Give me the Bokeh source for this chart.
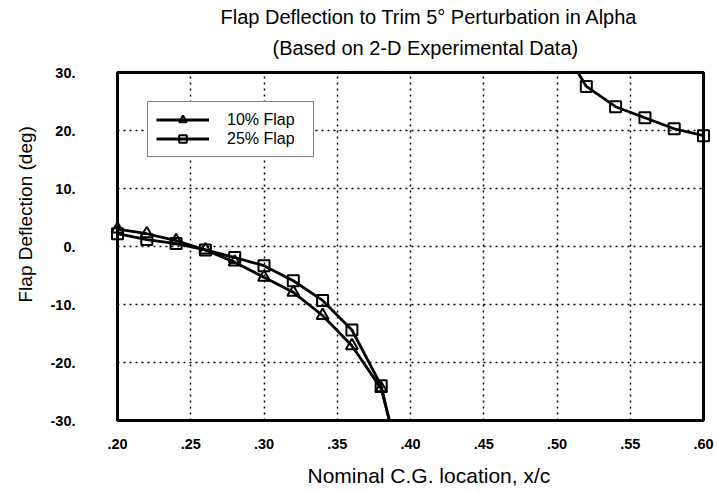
import numpy as np
from bokeh.plotting import figure
from bokeh.models import (Range1d, FixedTicker, CustomJSTickFormatter, Title,
                          Legend, LegendItem)
from bokeh.embed import file_html
from bokeh.resources import INLINE

# ---- data ----
cg_10 = [0.20, 0.22, 0.24, 0.26, 0.28, 0.30, 0.32, 0.34, 0.36, 0.38, 0.40]
flap_10 = [3.0, 2.2, 1.0, -0.6, -2.7, -5.3, -7.9, -11.9, -17.1, -24.5, -44.0]

cg_25 = [0.20, 0.22, 0.24, 0.26, 0.28, 0.30, 0.32, 0.34, 0.36, 0.38, 0.40,
         0.45, 0.50, 0.52, 0.54, 0.56, 0.58, 0.60]
flap_25 = [2.2, 1.2, 0.5, -0.6, -1.9, -3.3, -5.9, -9.3, -14.4, -24.0, -46.0,
           float("nan"), 36.0, 27.6, 24.1, 22.2, 20.3, 19.1]

x_ticks = [0.20, 0.25, 0.30, 0.35, 0.40, 0.45, 0.50, 0.55, 0.60]
y_ticks = [-30, -20, -10, 0, 10, 20, 30]

title_1 = "Flap Deflection to Trim 5\u00b0 Perturbation in Alpha"
title_2 = "(Based on 2-D Experimental Data)"
x_title = "Nominal C.G. location, x/c"
y_title = "Flap Deflection (deg)"
series_names = ["10% Flap", "25% Flap"]

FONT = "Liberation Sans"

p = figure(width=717, height=493, output_backend="svg", toolbar_location=None,
           x_range=Range1d(0.20, 0.60), y_range=Range1d(-30, 30),
           min_border_left=117, min_border_right=14, min_border_top=72,
           min_border_bottom=73)
p.background_fill_color = "white"
p.border_fill_color = "white"
p.outline_line_color = "black"
p.outline_line_width = 3

# axes
for ax in (p.xaxis[0], p.yaxis[0]):
    ax.axis_line_color = None
    ax.major_tick_line_color = None
    ax.minor_tick_line_color = None
    ax.major_tick_in = 0
    ax.major_tick_out = 0
    ax.major_label_text_font = FONT
    ax.major_label_text_font_size = "14.5px"
    ax.major_label_text_font_style = "bold"
    ax.major_label_text_color = "black"

p.xaxis[0].ticker = FixedTicker(ticks=x_ticks)
p.yaxis[0].ticker = FixedTicker(ticks=y_ticks)
p.xaxis[0].formatter = CustomJSTickFormatter(code='return "." + (tick*100).toFixed(0);')
p.yaxis[0].formatter = CustomJSTickFormatter(code='return tick.toFixed(0) + ".";')
p.xaxis[0].major_label_standoff = 18
p.yaxis[0].major_label_standoff = 42

# grid
for g in (p.xgrid[0], p.ygrid[0]):
    g.grid_line_color = "black"
    g.grid_line_dash = "2 4"
    g.grid_line_width = 1.5
p.xgrid[0].ticker = FixedTicker(ticks=x_ticks)
p.ygrid[0].ticker = FixedTicker(ticks=y_ticks)

# series
l10 = p.line(cg_10, flap_10, line_color="black", line_width=2.8)
s10 = p.scatter(cg_10, flap_10, marker="triangle", size=12, fill_color=None,
                line_color="black", line_width=2, level="overlay")
l25 = p.line(cg_25, flap_25, line_color="black", line_width=2.8)
s25 = p.scatter(cg_25, flap_25, marker="square", size=11, fill_color=None,
                line_color="black", line_width=2, level="overlay")

legend = Legend(items=[LegendItem(label=series_names[0], renderers=[l10, s10]),
                       LegendItem(label=series_names[1], renderers=[l25, s25])],
                location=(30, 263), glyph_width=53, glyph_height=19,
                label_height=19, label_width=78, label_standoff=18, padding=8,
                spacing=0, margin=0, border_line_color="black",
                border_line_width=1.5, background_fill_color="white",
                background_fill_alpha=1.0, label_text_font=FONT,
                label_text_font_size="16px", label_text_color="black")
p.add_layout(legend, "center")

# titles (last added is farthest from the frame)
p.title.text = ""
p.add_layout(Title(text=" ", text_font_size="1px", standoff=2), "above")
p.add_layout(Title(text=title_2, align="left", offset=155, text_font=FONT,
                   text_font_size="20px", text_font_style="normal",
                   text_color="black", standoff=17), "above")
p.add_layout(Title(text=title_1, align="left", offset=103, text_font=FONT,
                   text_font_size="20px", text_font_style="normal",
                   text_color="black", standoff=-3), "above")
p.add_layout(Title(text=" ", text_font_size="1px", standoff=7), "below")
p.add_layout(Title(text=x_title, align="left", offset=190, text_font=FONT,
                   text_font_size="21px", text_font_style="normal",
                   text_color="black", standoff=0), "below")
p.add_layout(Title(text=y_title, align="left", offset=118, text_font=FONT,
                   text_font_size="19px", text_font_style="normal",
                   text_color="black", standoff=23), "left")

open("out.html", "w").write(file_html(p, INLINE))
